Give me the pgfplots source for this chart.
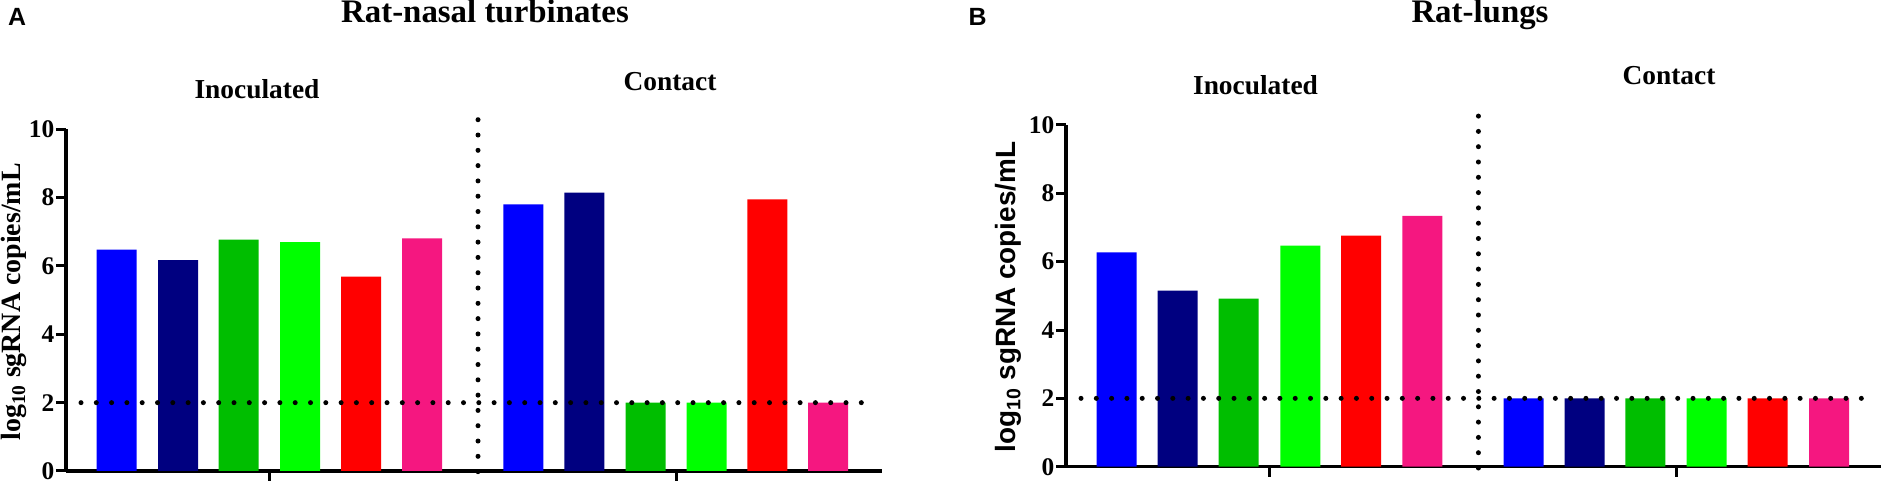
\documentclass[border=0pt]{standalone}
\usepackage{fontspec}
\setmainfont{Liberation Serif}
\setsansfont{Liberation Sans}
\usepackage{pgfplots}
\pgfplotsset{compat=1.18}

\definecolor{cblue}{RGB}{0,0,255}
\definecolor{cnavy}{RGB}{0,0,128}
\definecolor{cgreen}{RGB}{0,190,0}
\definecolor{clime}{RGB}{0,255,0}
\definecolor{cred}{RGB}{255,0,0}
\definecolor{cpink}{RGB}{245,23,128}

\pgfplotsset{
  panel/.style={
    scale only axis, width=816bp, height=341.7bp,
    xmin=0, xmax=816, ymin=0, ymax=10,
    axis x line=bottom, axis y line=left,
    axis line style={line width=3.4bp, -},
    ytick={0,2,4,6,8,10}, xtick={203,610}, xticklabels={},
    tick align=outside, major tick length=10bp,
    every tick/.style={line width=3bp, black},
    tick label style={font=\fontsize{25.5}{25.5}\selectfont\bfseries},
    yticklabel style={inner xsep=1.5bp},
    /pgf/number format/assume math mode=true,
    clip=false,
    anchor=south west,
  },
  bars/.style={ybar, bar width=40, bar shift=0pt, draw=none, fill=#1},
  dots/.style={black, line width=5bp, line cap=round, dash pattern=on 0bp off 15.3bp},
}

\begin{document}
\begin{tikzpicture}[x=1bp,y=1bp]
\useasboundingbox (0,0) rectangle (1881,483);

% ---------- Panel A ----------
\begin{axis}[panel, at={(66bp,12bp)}]
\addplot[bars=cblue]  coordinates {(50.7,6.48) (457.3,7.80)};
\addplot[bars=cnavy]  coordinates {(112,6.17) (518.3,8.15)};
\addplot[bars=cgreen] coordinates {(172.5,6.77) (579.7,2.0)};
\addplot[bars=clime]  coordinates {(234,6.70) (640.7,2.0)};
\addplot[bars=cred]   coordinates {(295,5.69) (701.3,7.95)};
\addplot[bars=cpink]  coordinates {(356,6.81) (762,2.0)};
\addplot[dots] coordinates {(15,2) (806,2)};
\addplot[dots] coordinates {(412,10.28) (412,-0.12)};
\end{axis}

% ---------- Panel B ----------
\begin{axis}[panel, at={(1066bp,16.3bp)}]
\addplot[bars=cblue]  coordinates {(50.5,6.27) (457.6,2.0)};
\addplot[bars=cnavy]  coordinates {(111.7,5.15) (518.7,2.0)};
\addplot[bars=cgreen] coordinates {(172.7,4.92) (579.4,2.0)};
\addplot[bars=clime]  coordinates {(234.3,6.47) (640.6,2.0)};
\addplot[bars=cred]   coordinates {(295,6.76) (701.7,2.0)};
\addplot[bars=cpink]  coordinates {(356.3,7.34) (763,2.0)};
\addplot[dots] coordinates {(15,2) (801,2)};
\addplot[dots] coordinates {(412.4,10.26) (412.4,-0.12)};
\end{axis}

% ---------- Texts ----------
\node[font=\sffamily\bfseries\fontsize{25}{25}\selectfont] at (17,466.5) {A};
\node[font=\sffamily\bfseries\fontsize{25}{25}\selectfont] at (977.5,466.5) {B};

\node[anchor=base, font=\bfseries\fontsize{33}{33}\selectfont] at (485,460.3) {Rat-nasal turbinates};
\node[anchor=base, font=\bfseries\fontsize{33}{33}\selectfont] at (1480,460.3) {Rat-lungs};

\node[anchor=base, font=\bfseries\fontsize{27.5}{27.5}\selectfont] at (257,384.5) {Inoculated};
\node[anchor=base, font=\bfseries\fontsize{27.5}{27.5}\selectfont] at (670,392.3) {Contact};
\node[anchor=base, font=\bfseries\fontsize{27.5}{27.5}\selectfont] at (1255.5,388) {Inoculated};
\node[anchor=base, font=\bfseries\fontsize{27.5}{27.5}\selectfont] at (1669,398) {Contact};

\node[rotate=90, font=\bfseries\fontsize{28}{28}\selectfont] at (14,181) {log\textsubscript{10} sgRNA copies/mL};
\node[rotate=90, font=\sffamily\bfseries\fontsize{28}{28}\selectfont] at (1008,186) {log\textsubscript{10} sgRNA copies/mL};
\end{tikzpicture}
\end{document}
